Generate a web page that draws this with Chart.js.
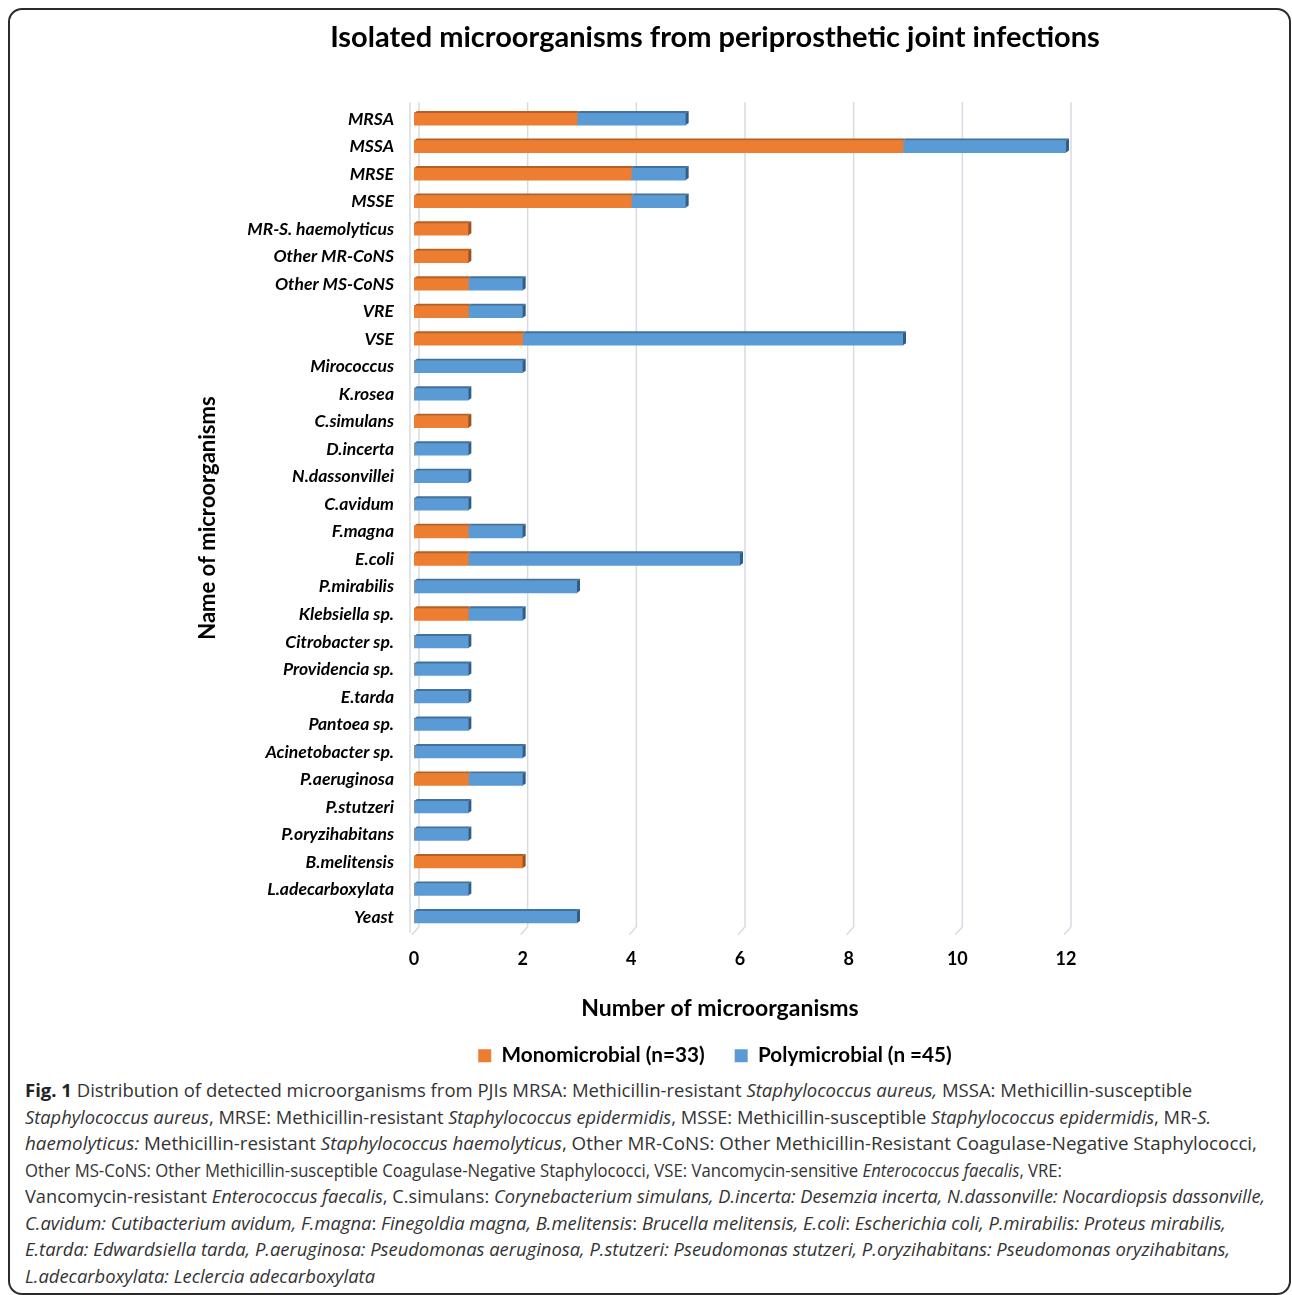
<!DOCTYPE html>
<html>
<head>
<meta charset="utf-8">
<title>Isolated microorganisms from periprosthetic joint infections</title>
<script src="https://cdn.jsdelivr.net/npm/chart.js@4.4.1/dist/chart.umd.min.js"></script>
<style>
  html, body { margin: 0; padding: 0; background: #fff; }
  body { width: 1292px; height: 1295px; position: relative; overflow: hidden; }
  #frame {
    position: absolute; left: 8px; top: 8px; width: 1283px; height: 1287px;
    border: 2px solid #2b2b2b; border-radius: 14px; box-sizing: border-box;
  }
  #chartBox { position: absolute; left: 0; top: 0; width: 1292px; height: 1076px; }
  #caption {
    position: absolute; left: 25px; top: 1077px;
    font-family: "Open Sans", "Noto Sans", sans-serif; font-size: 18px;
    line-height: 26.5px; color: #333;
  }
  #caption .ln { white-space: nowrap; height: 26.5px; }
  #caption .ln span.fit { display: inline-block; transform-origin: 0 50%; }
  #caption b { font-weight: 700; color: #222; }
</style>
</head>
<body>
<div id="frame"></div>
<div id="chartBox"><canvas id="chart"></canvas></div>
<div id="caption">
  <div class="ln"><span class="fit"><b>Fig. 1</b> Distribution of detected microorganisms from PJIs MRSA: Methicillin-resistant <i>Staphylococcus aureus,</i> MSSA: Methicillin-susceptible</span></div>
  <div class="ln"><span class="fit"><i>Staphylococcus aureus</i>, MRSE: Methicillin-resistant <i>Staphylococcus epidermidis</i>, MSSE: Methicillin-susceptible <i>Staphylococcus epidermidis</i>, MR-<i>S.</i></span></div>
  <div class="ln"><span class="fit"><i>haemolyticus:</i> Methicillin-resistant <i>Staphylococcus haemolyticus</i>, Other MR-CoNS: Other Methicillin-Resistant Coagulase-Negative Staphylococci,</span></div>
  <div class="ln"><span class="fit">Other MS-CoNS: Other Methicillin-susceptible Coagulase-Negative Staphylococci, VSE: Vancomycin-sensitive <i>Enterococcus faecalis</i>, VRE:</span></div>
  <div class="ln"><span class="fit">Vancomycin-resistant <i>Enterococcus faecalis</i>, C.simulans: <i>Corynebacterium simulans, D.incerta: Desemzia incerta, N.dassonville: Nocardiopsis dassonville,</i></span></div>
  <div class="ln"><span class="fit"><i>C.avidum: Cutibacterium avidum, F.magna</i>: <i>Finegoldia magna, B.melitensis</i>: <i>Brucella melitensis, E.coli</i>: <i>Escherichia coli, P.mirabilis: Proteus mirabilis,</i></span></div>
  <div class="ln"><span class="fit"><i>E.tarda: Edwardsiella tarda, P.aeruginosa: Pseudomonas aeruginosa, P.stutzeri: Pseudomonas stutzeri, P.oryzihabitans: Pseudomonas oryzihabitans,</i></span></div>
  <div class="ln"><span class="fit"><i>L.adecarboxylata: Leclercia adecarboxylata</i></span></div>
</div>
<script>
// Organisms, top to bottom
const organisms = [
  "MRSA", "MSSA", "MRSE", "MSSE", "MR-S. haemolyticus", "Other MR-CoNS",
  "Other MS-CoNS", "VRE", "VSE", "Mirococcus", "K.rosea", "C.simulans",
  "D.incerta", "N.dassonvillei", "C.avidum", "F.magna", "E.coli", "P.mirabilis",
  "Klebsiella sp.", "Citrobacter sp.", "Providencia sp.", "E.tarda", "Pantoea sp.",
  "Acinetobacter sp.", "P.aeruginosa", "P.stutzeri", "P.oryzihabitans",
  "B.melitensis", "L.adecarboxylata", "Yeast"
];

// Isolates from monomicrobial infections (n=33)
const monomicrobial = [
  3, 9, 4, 4, 1, 1,
  1, 1, 2, 0, 0, 1,
  0, 0, 0, 1, 1, 0,
  1, 0, 0, 0, 0,
  0, 1, 0, 0,
  2, 0, 0
];

// Isolates from polymicrobial infections (n=45)
const polymicrobial = [
  2, 3, 1, 1, 0, 0,
  1, 1, 7, 2, 1, 0,
  1, 1, 1, 1, 5, 3,
  1, 1, 1, 1, 1,
  2, 1, 1, 1,
  0, 1, 3
];

const seriesNames = ["Monomicrobial (n=33)", "Polymicrobial (n =45)"];
const axisRange = { min: 0, max: 12, step: 2 };

const FONT = "Lato, 'Open Sans', sans-serif";
const fills = ["#ED7D31", "#5B9BD5"];
const edges = ["#B85F21", "#41719C"];
const caps  = ["#9E4F1A", "#2F5D88"];

// Back-wall gridlines with a short perspective foot
const wallGrid = {
  id: "wallGrid",
  beforeDatasetsDraw(chart) {
    const { ctx, chartArea } = chart;
    const xs = chart.scales.x;
    ctx.save();
    ctx.strokeStyle = "#d6dbe4";
    ctx.lineWidth = 1.5;
    xs.ticks.forEach(t => {
      const px = xs.getPixelForValue(t.value);
      ctx.beginPath();
      ctx.moveTo(px + 5, chartArea.top - 3);
      ctx.lineTo(px + 5, chartArea.bottom - 4);
      ctx.lineTo(px - 2, chartArea.bottom + 4);
      ctx.stroke();
    });
    const p0 = xs.getPixelForValue(axisRange.min) - 4;
    ctx.beginPath();
    ctx.moveTo(p0, chartArea.top - 3);
    ctx.lineTo(p0, chartArea.bottom + 2);
    ctx.stroke();
    ctx.restore();
  }
};

// Top bevel on each segment and a shaded end face on each stack
const bar3d = {
  id: "bar3d",
  afterDatasetsDraw(chart) {
    const ctx = chart.ctx;
    const metas = chart.getSortedVisibleDatasetMetas();
    const dx = 3, dy = 2;
    ctx.save();
    for (let i = 0; i < chart.data.labels.length; i++) {
      let last = null;
      metas.forEach(meta => {
        const v = chart.data.datasets[meta.index].data[i];
        if (!v) return;
        const p = meta.data[i].getProps(["x", "y", "base", "height"], true);
        const top = p.y - p.height / 2, bottom = p.y + p.height / 2;
        const left = Math.min(p.base, p.x), right = Math.max(p.base, p.x);
        ctx.fillStyle = edges[meta.index];
        ctx.beginPath();
        ctx.moveTo(left, top);
        ctx.lineTo(left + dx, top - dy);
        ctx.lineTo(right + dx, top - dy);
        ctx.lineTo(right, top);
        ctx.closePath();
        ctx.fill();
        if (!last || right >= last.right) last = { right, top, bottom, idx: meta.index };
      });
      if (last) {
        ctx.fillStyle = caps[last.idx];
        ctx.beginPath();
        ctx.moveTo(last.right, last.top);
        ctx.lineTo(last.right + dx, last.top - dy);
        ctx.lineTo(last.right + dx, last.bottom - dy);
        ctx.lineTo(last.right, last.bottom);
        ctx.closePath();
        ctx.fill();
      }
    }
    ctx.restore();
  }
};

// Horizontal axis caption
const xCaption = {
  id: "xCaption",
  afterDraw(chart) {
    const ctx = chart.ctx;
    ctx.save();
    ctx.font = "bold 23px " + FONT;
    ctx.fillStyle = "#000";
    ctx.textAlign = "center";
    ctx.textBaseline = "middle";
    ctx.fillText("Number of microorganisms", 720, 1009);
    ctx.restore();
  }
};

Chart.defaults.color = "#000";
Chart.defaults.font.family = FONT;

new Chart(document.getElementById("chart"), {
  type: "bar",
  data: {
    labels: organisms,
    datasets: [
      { label: seriesNames[0], data: monomicrobial, backgroundColor: fills[0], borderWidth: 0 },
      { label: seriesNames[1], data: polymicrobial, backgroundColor: fills[1], borderWidth: 0 }
    ]
  },
  options: {
    indexAxis: "y",
    responsive: true,
    maintainAspectRatio: false,
    animation: false,
    datasets: { bar: { barThickness: 12 } },
    layout: { padding: { left: 138, right: 0, top: 0, bottom: 0 } },
    plugins: {
      title: {
        display: true,
        text: "Isolated microorganisms from periprosthetic joint infections",
        font: { size: 29, weight: "bold" },
        color: "#000",
        padding: { top: 20, bottom: 50.5 }
      },
      legend: {
        position: "bottom",
        labels: {
          boxWidth: 13, boxHeight: 13, padding: 30,
          font: { size: 20.7, weight: "bold" }, color: "#000"
        }
      },
      tooltip: { enabled: false }
    },
    scales: {
      x: {
        stacked: true,
        min: axisRange.min, max: axisRange.max,
        grid: { display: false, drawTicks: false },
        border: { display: false },
        ticks: { stepSize: axisRange.step, padding: 18, font: { size: 18, weight: "bold" } },
        afterFit(s) { s.height = 84.5; }
      },
      y: {
        stacked: true,
        grid: { display: false, drawTicks: false },
        border: { display: false },
        ticks: {
          autoSkip: false, padding: 20,
          font: { size: 17.5, weight: "bold", style: "italic" }
        },
        title: {
          display: true, text: "Name of microorganisms",
          font: { size: 22, weight: "bold" }, padding: { top: 57, bottom: 0 }
        },
        afterFit(s) { s.width = 276; }
      },
      spacer: {
        type: "linear", position: "right", display: true,
        grid: { display: false, drawTicks: false },
        border: { display: false },
        ticks: { display: false },
        afterFit(s) { s.width = 226; }
      }
    }
  },
  plugins: [wallGrid, bar3d, xCaption]
});

// Set each caption line to its column width
const lineWidths = [1167, 1186, 1232, 1037, 1240, 1201, 1205, null];
const fits = Array.from(document.querySelectorAll("#caption .fit"));
let lastScale = 1;
fits.forEach((el, i) => {
  const w = el.getBoundingClientRect().width;
  const s = lineWidths[i] ? lineWidths[i] / w : lastScale;
  el.style.transform = "scaleX(" + s.toFixed(4) + ")";
  lastScale = s;
});
</script>
</body>
</html>
